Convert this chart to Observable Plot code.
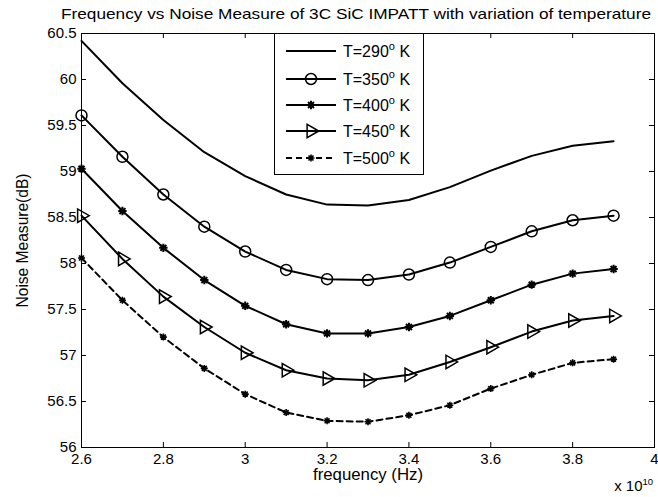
<!DOCTYPE html>
<html><head><meta charset="utf-8">
<script src="https://cdn.jsdelivr.net/npm/d3@7"></script>
<script src="https://cdn.jsdelivr.net/npm/@observablehq/plot@0.6"></script>
<style>
body{margin:0;background:#fff;font-family:"Liberation Sans",Arial,sans-serif;}
#wrap{position:relative;width:658px;height:497px;overflow:hidden;}
#legend{position:absolute;left:274px;top:33px;width:150px;height:142px;box-sizing:border-box;border:1px solid #000;background:#fff;}
.row{position:absolute;left:0;height:20px;display:flex;align-items:center;}
.row svg{display:block;}
.row span{font-size:16px;color:#000;margin-left:6px;white-space:nowrap;}
.row sup{font-size:11px;position:relative;top:-1px;}
</style></head><body><div id="wrap"></div>
<script>
const titleText = "Frequency vs Noise Measure of 3C SiC IMPATT with variation of temperature";
const xLabel = "frequency (Hz)";
const yLabel = "Noise Measure(dB)";
const xExpBase = "x 10";
const xExp = "10";

const freq = [2.6, 2.7, 2.8, 2.9, 3.0, 3.1, 3.2, 3.3, 3.4, 3.5, 3.6, 3.7, 3.8, 3.9];
const t290 = [60.42, 59.96, 59.56, 59.21, 58.95, 58.75, 58.64, 58.63, 58.69, 58.83, 59.01, 59.17, 59.28, 59.33];
const t350 = [59.61, 59.16, 58.75, 58.40, 58.13, 57.93, 57.83, 57.82, 57.88, 58.01, 58.18, 58.35, 58.47, 58.52];
const t400 = [59.03, 58.57, 58.17, 57.82, 57.54, 57.34, 57.24, 57.24, 57.31, 57.43, 57.60, 57.77, 57.89, 57.94];
const t450 = [58.52, 58.05, 57.64, 57.31, 57.03, 56.84, 56.75, 56.73, 56.79, 56.93, 57.09, 57.26, 57.38, 57.43];
const t500 = [58.06, 57.60, 57.20, 56.86, 56.58, 56.38, 56.29, 56.28, 56.35, 56.46, 56.64, 56.79, 56.92, 56.96];

const seriesNames = ["T=290", "T=350", "T=400", "T=450", "T=500"];
const seriesValues = [t290, t350, t400, t450, t500];

const xTicks = [2.6, 2.8, 3.0, 3.2, 3.4, 3.6, 3.8, 4.0];
const xTickLabels = ["2.6", "2.8", "3", "3.2", "3.4", "3.6", "3.8", "4"];
const yTicks = [56, 56.5, 57, 57.5, 58, 58.5, 59, 59.5, 60, 60.5];
const yTickLabels = ["56", "56.5", "57", "57.5", "58", "58.5", "59", "59.5", "60", "60.5"];

// marker styles (presentation only)
const star8 = {draw(ctx, size){ const r = Math.sqrt(size/Math.PI); const d = r*Math.SQRT1_2;
  ctx.moveTo(-r,0);ctx.lineTo(r,0);ctx.moveTo(0,-r);ctx.lineTo(0,r);
  ctx.moveTo(-d,-d);ctx.lineTo(d,d);ctx.moveTo(-d,d);ctx.lineTo(d,-d);}};
const styles = [
  {symbol:null, r:0, rotate:0, dash:null, sw:1.4},
  {symbol:"circle", r:5.5, rotate:0, dash:null, sw:1.5},
  {symbol:star8, r:4.2, rotate:0, dash:null, sw:2},
  {symbol:"triangle", r:5, rotate:90, dash:null, sw:1.5},
  {symbol:star8, r:3.5, rotate:0, dash:"6,4", sw:1.6}
];

const W = 658, H = 497, mL = 81, mR = 4, mT = 33, mB = 50;
const innerW = W - mL - mR, innerH = H - mT - mB;

const rows = [];
seriesNames.forEach((s, k) => freq.forEach((f, i) => rows.push({series: s, k, f, v: seriesValues[k][i]})));

const marks = [];
// inward ticks on all four sides
marks.push(Plot.tickX(xTicks, {x: d => d, insetTop: innerH - 5, stroke: "#000"}));
marks.push(Plot.tickX(xTicks, {x: d => d, insetBottom: innerH - 5, stroke: "#000"}));
marks.push(Plot.tickY(yTicks, {y: d => d, insetRight: innerW - 5, stroke: "#000"}));
marks.push(Plot.tickY(yTicks, {y: d => d, insetLeft: innerW - 5, stroke: "#000"}));

seriesNames.forEach((s, k) => {
  const data = rows.filter(r => r.k === k);
  const st = styles[k];
  marks.push(Plot.line(data, {x: "f", y: "v", stroke: "#000", strokeWidth: 2, strokeDasharray: st.dash}));
  if (st.symbol) marks.push(Plot.dot(data, {x: "f", y: "v", symbol: st.symbol, r: st.r, rotate: st.rotate, stroke: "#000", fill: "none", strokeWidth: st.sw}));
});

marks.push(Plot.frame({stroke: "#000", strokeWidth: 1}));
marks.push(Plot.axisX(xTicks, {anchor: "bottom", tickSize: 0, tickPadding: 6, tickFormat: d => xTickLabels[xTicks.indexOf(d)], fontSize: 15, label: null}));
marks.push(Plot.axisY(yTicks, {anchor: "left", tickSize: 0, tickPadding: 5, tickFormat: d => yTickLabels[yTicks.indexOf(d)], fontSize: 15, label: null}));
marks.push(Plot.text([xLabel], {frameAnchor: "bottom", textAnchor: "middle", dy: 32, fontSize: 16}));
marks.push(Plot.text([xExpBase], {frameAnchor: "bottom-right", textAnchor: "end", dx: -12, dy: 43, fontSize: 15}));
marks.push(Plot.text([xExp], {frameAnchor: "bottom-right", textAnchor: "start", dx: -12, dy: 37, fontSize: 9.5}));
marks.push(Plot.text([yLabel], {frameAnchor: "left", textAnchor: "middle", rotate: -90, dx: -59, fontSize: 16}));
marks.push(Plot.text([titleText], {frameAnchor: "top", textAnchor: "middle", dx: -12, dy: -25, fontSize: 15}));

const chart = Plot.plot({
  width: W, height: H,
  marginLeft: mL, marginRight: mR, marginTop: mT, marginBottom: mB,
  x: {domain: [2.6, 4.0], axis: null},
  y: {domain: [56, 60.5], axis: null},
  style: {fontFamily: "'Liberation Sans', Arial, sans-serif", fontSize: "15px", color: "#000", background: "#fff", overflow: "visible"},
  marks
});
const wrap = document.getElementById("wrap");
wrap.appendChild(chart);

// stretch texts to match reference widths
const stretch = {[titleText]: 590, [xLabel]: 110, [yLabel]: 134};
chart.querySelectorAll("text").forEach(t => {
  const L = stretch[t.textContent];
  if (L) { t.setAttribute("textLength", L); t.setAttribute("lengthAdjust", "spacingAndGlyphs"); }
});

// legend
const legend = d3.select(wrap).append("div").attr("id", "legend");
const rowTops = [7, 35, 61, 87, 114];
seriesNames.forEach((s, k) => {
  const st = styles[k];
  const row = legend.append("div").attr("class", "row").style("top", rowTops[k] + "px").style("left", "10px");
  const sv = row.append("svg").attr("width", 52).attr("height", 20);
  sv.append("line").attr("x1", 1).attr("x2", 51).attr("y1", 10).attr("y2", 10)
    .attr("stroke", "#000").attr("stroke-width", 2).attr("stroke-dasharray", st.dash);
  if (st.symbol) {
    const type = st.symbol === "circle" ? d3.symbolCircle : st.symbol === "triangle" ? d3.symbolTriangle : st.symbol;
    sv.append("path").attr("d", d3.symbol(type, Math.PI * st.r * st.r)())
      .attr("transform", `translate(26,10) rotate(${st.rotate})`)
      .attr("fill", "none").attr("stroke", "#000").attr("stroke-width", st.sw);
  }
  row.append("span").html(`${s}<sup>o</sup> K`);
});
</script></body></html>
